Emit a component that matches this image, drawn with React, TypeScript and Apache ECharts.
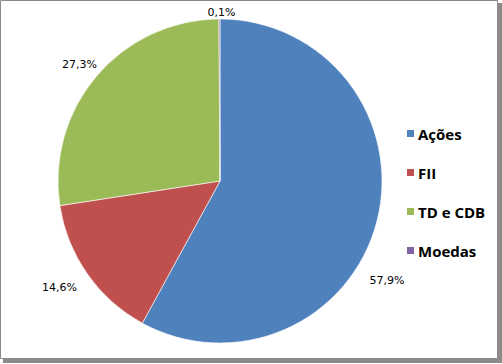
import React, { useEffect, useRef } from "react";
import * as echarts from "echarts";

const categories = ["Ações", "FII", "TD e CDB", "Moedas"];
const values = [57.9, 14.6, 27.3, 0.1];
const colors = ["#4F81BD", "#C0504D", "#9BBB59", "#8064A2"];

export default function App() {
  const ref = useRef<HTMLDivElement>(null);
  useEffect(() => {
    if (!ref.current) return;
    const chart = echarts.init(ref.current, undefined, { renderer: "svg" });
    const labelShift: Record<number, [number, number]> = {
      0: [-22, 52],
      1: [0, -3],
      2: [-6, 7],
      3: [7, 6],
    };
    chart.setOption({
      animation: false,
      backgroundColor: "#ffffff",
      graphic: [
        { type: "rect", shape: { x: 3, y: 3, width: 499, height: 360 }, style: { fill: "#8a8a8a" }, silent: true },
        { type: "rect", shape: { x: 0.5, y: 0.5, width: 497, height: 358 }, style: { fill: "#ffffff", stroke: "#8a8a8a", lineWidth: 1 }, silent: true, z: 1 },
      ],
      legend: {
        orient: "vertical",
        left: 400,
        top: 121,
        itemWidth: 9,
        itemHeight: 9,
        itemGap: 24,
        icon: "rect",
        textStyle: { fontFamily: "Open Sans", fontWeight: "bold", fontSize: 15, color: "#000", padding: [0, 0, 0, -2] },
        data: categories,
      },
      series: [
        {
          type: "pie",
          center: [220, 181],
          radius: 162,
          startAngle: 90,
          clockwise: true,
          z: 5,
          data: categories.map((c, i) => ({ name: c, value: values[i], itemStyle: { color: colors[i] } })),
          itemStyle: { borderColor: "#ffffff", borderWidth: 0.6 },
          label: {
            show: true,
            position: "outside",
            formatter: (p: any) => values[p.dataIndex].toFixed(1).replace(".", ",") + "%",
            fontFamily: "DejaVu Sans",
            fontSize: 11,
            color: "#000",
          },
          labelLine: { show: false, length: 28, length2: 0 },
          labelLayout: (p: any) => {
            const s = labelShift[p.dataIndex] || [0, 0];
            return { align: "center", verticalAlign: "middle", dx: s[0], dy: s[1] };
          },
          emphasis: { disabled: true },
        },
      ],
    });
    return () => chart.dispose();
  }, []);
  return <div ref={ref} style={{ position: "absolute", left: 0, top: 0, width: 502, height: 364 }} />;
}
